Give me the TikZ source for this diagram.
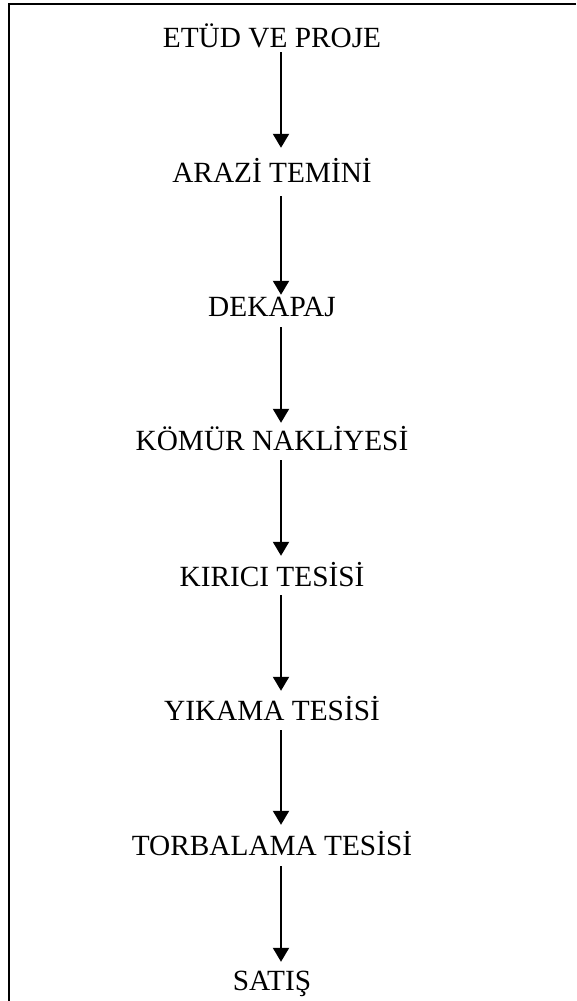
\documentclass[tikz,border=0pt]{standalone}
\usepackage{fontspec}
\setmainfont{Liberation Serif}
\usetikzlibrary{arrows.meta}
\begin{document}
\begin{tikzpicture}[x=1pt,y=-1pt,
  lbl/.style={inner sep=0pt, anchor=base, text height=20pt, text depth=0pt,
              font=\fontsize{29.3}{34}\selectfont},
  flow/.style={line width=2pt, -{Triangle[width=16pt,length=14pt]}},
  frame/.style={line width=2pt}]
\useasboundingbox (0,0) rectangle (576,1001);
\coordinate (ax) at (281,0);
\coordinate (tl) at (8.5,4);
\coordinate (tr) at (576,4);
\coordinate (bl) at (8.5,1001);
\draw[frame] (tr) -- (tl) -- (bl);
\node[lbl] (n1) at (272,47) {ETÜD VE PROJE};
\node[lbl] (n2) at (272,182) {ARAZİ TEMİNİ};
\node[lbl] (n3) at (272,316) {DEKAPAJ};
\node[lbl] (n4) at (272,450) {KÖMÜR NAKLİYESİ};
\node[lbl] (n5) at (272,586) {KIRICI TESİSİ};
\node[lbl] (n6) at (272,720) {YIKAMA TESİSİ};
\node[lbl] (n7) at (272,855) {TORBALAMA TESİSİ};
\node[lbl] (n8) at (272,990) {SATIŞ};
\draw[flow, shorten <=5pt, shorten >=14pt] (n1.south -| ax) -- (n2.north -| ax);
\draw[flow, shorten <=14pt, shorten >=1pt] (n2.south -| ax) -- (n3.north -| ax);
\draw[flow, shorten <=11pt, shorten >=7pt] (n3.south -| ax) -- (n4.north -| ax);
\draw[flow, shorten <=10pt, shorten >=10pt] (n4.south -| ax) -- (n5.north -| ax);
\draw[flow, shorten <=9pt, shorten >=9pt] (n5.south -| ax) -- (n6.north -| ax);
\draw[flow, shorten <=10pt, shorten >=10pt] (n6.south -| ax) -- (n7.north -| ax);
\draw[flow, shorten <=11pt, shorten >=8pt] (n7.south -| ax) -- (n8.north -| ax);
\end{tikzpicture}
\end{document}
